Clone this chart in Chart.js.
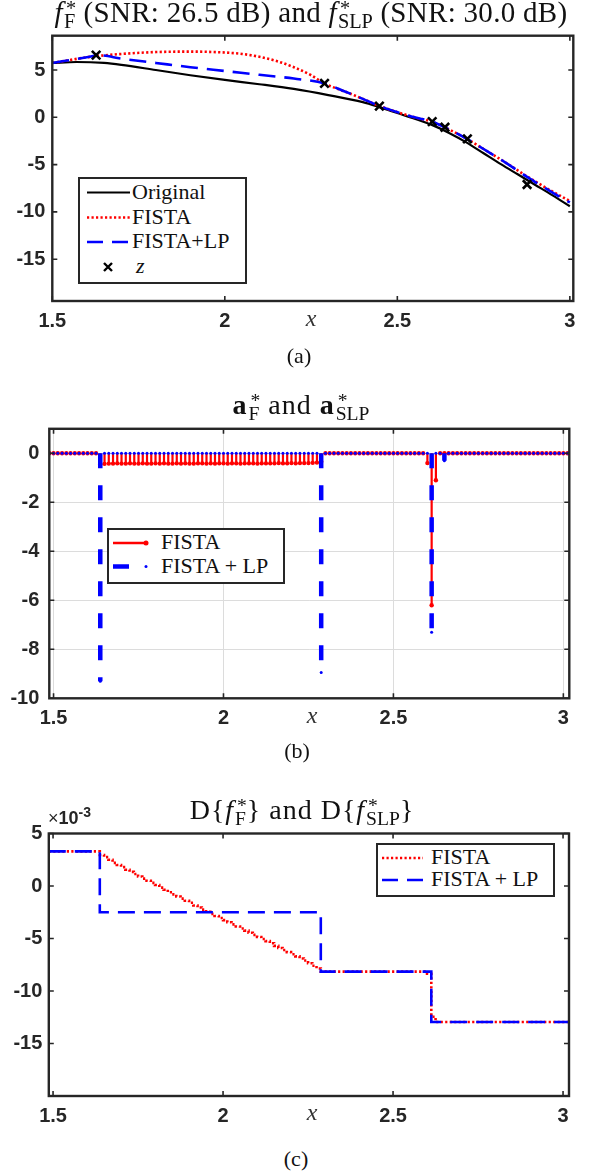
<!DOCTYPE html>
<html>
<head>
<meta charset="utf-8">
<script src="https://cdn.jsdelivr.net/npm/chart.js@4.4.1/dist/chart.umd.min.js"></script>
<style>
  body { margin: 0; background: #fff; }
  #page { position: relative; width: 590px; height: 1173px; overflow: hidden; font-family: "Liberation Serif", "Times New Roman", serif; color: #111; }
  canvas { position: absolute; left: 0; }
  .ttl { position: absolute; white-space: nowrap; transform: translateX(-50%); font-size: 28px; line-height: 50px; height: 50px; }
  .cap { position: absolute; transform: translateX(-50%); font-size: 22px; line-height: 30px; }
  .xl { position: absolute; font-style: italic; font-size: 24px; line-height: 30px; transform: translateX(-50%); color: #333; }
  .ss { display: inline-block; font-size: .7em; line-height: .64em; vertical-align: -.3em; margin-left: .05em; letter-spacing: 0; }
  .ss > span { display: block; }
  .ss > .u { margin-left: .1em; }
  .leg { position: absolute; background: #fff; box-shadow: inset 0 0 0 2px #262626; }
  .leg svg { position: absolute; left: 0; top: 0; }
  .leg span { position: absolute; font-size: 22px; line-height: 24px; white-space: nowrap; }
  .exp { position: absolute; left: 48px; top: 804px; font: bold 18px "Liberation Sans", Arial, sans-serif; color: #262626; white-space: nowrap; }
  .exp sup { font-size: 14px; }
</style>
</head>
<body>
<div id="page">
  <canvas id="ca" width="590" height="345" style="top:0"></canvas>
  <canvas id="cb" width="590" height="345" style="top:400px"></canvas>
  <canvas id="cc" width="590" height="335" style="top:800px"></canvas>

  <div class="ttl" style="left:311px;top:-13px;font-size:29px;letter-spacing:.3px"><i>f</i><span class="ss"><span class="u">*</span><span>F</span></span> (SNR: 26.5 dB) and <i>f</i><span class="ss"><span class="u">*</span><span>SLP</span></span> (SNR: 30.0 dB)</div>
  <div class="ttl" style="left:301px;top:380px;letter-spacing:1px"><b>a</b><span class="ss"><span class="u">*</span><span>F</span></span> and <b>a</b><span class="ss"><span class="u">*</span><span>SLP</span></span></div>
  <div class="ttl" style="left:302px;top:785px;letter-spacing:1px">D{<i>f</i><span class="ss"><span class="u">*</span><span>F</span></span>} and D{<i>f</i><span class="ss"><span class="u">*</span><span>SLP</span></span>}</div>

  <div class="xl" style="left:311px;top:303px">x</div>
  <div class="xl" style="left:312px;top:700px">x</div>
  <div class="xl" style="left:312px;top:1097px">x</div>

  <div class="cap" style="left:299px;top:341px">(a)</div>
  <div class="cap" style="left:297px;top:736px">(b)</div>
  <div class="cap" style="left:296px;top:1144px">(c)</div>

  <div class="exp"><span style="font-weight:normal">×</span>10<sup>-3</sup></div>

  <div class="leg" style="left:78px;top:177px;width:169px;height:107px">
    <svg width="169" height="107">
      <line x1="9" y1="15.5" x2="52" y2="15.5" stroke="#000" stroke-width="2.2"/>
      <line x1="9" y1="40.5" x2="52" y2="40.5" stroke="#f00" stroke-width="2.6" stroke-dasharray="2.2 2.3"/>
      <line x1="9" y1="65" x2="52" y2="65" stroke="#00f" stroke-width="2.6" stroke-dasharray="16 9"/>
      <path d="M26 86 L34 94 M34 86 L26 94" stroke="#000" stroke-width="2.4"/>
    </svg>
    <span style="left:54px;top:3px">Original</span>
    <span style="left:54px;top:28px">FISTA</span>
    <span style="left:54px;top:52px">FISTA+LP</span>
    <span style="left:58px;top:77px;font-style:italic">z</span>
  </div>

  <div class="leg" style="left:107px;top:528px;width:178px;height:56px">
    <svg width="178" height="56">
      <line x1="6" y1="15" x2="39" y2="15" stroke="#f00" stroke-width="2.4"/>
      <circle cx="39" cy="15" r="2.5" fill="#f00"/>
      <line x1="6" y1="38.5" x2="22" y2="38.5" stroke="#00f" stroke-width="4.5"/>
      <circle cx="39" cy="38.5" r="1.5" fill="#00f"/>
    </svg>
    <span style="left:54px;top:2px">FISTA</span>
    <span style="left:54px;top:26px">FISTA + LP</span>
  </div>

  <div class="leg" style="left:376px;top:843px;width:179px;height:54px">
    <svg width="179" height="54">
      <line x1="6" y1="15" x2="47" y2="15" stroke="#f00" stroke-width="2.6" stroke-dasharray="2.2 2.3"/>
      <line x1="6" y1="37" x2="47" y2="37" stroke="#00f" stroke-width="2.6" stroke-dasharray="16 9"/>
    </svg>
    <span style="left:55px;top:2px">FISTA</span>
    <span style="left:55px;top:24px">FISTA + LP</span>
  </div>
</div>

<script>
// ---- (a) reconstructed signals ----
const origX = [1.5, 1.57, 1.65, 1.7, 1.8, 1.9, 2.0, 2.1, 2.2, 2.3, 2.4, 2.45, 2.5, 2.55, 2.6, 2.65, 2.7, 2.75, 2.8, 2.85, 2.9, 2.95, 3.0]
const origY = [5.75, 5.85, 5.75, 5.55, 5.0, 4.45, 3.95, 3.5, 3.0, 2.35, 1.6, 1.05, 0.45, -0.15, -0.8, -1.65, -2.65, -3.8, -4.95, -6.05, -7.15, -8.25, -9.4]
const fistaX = [1.5, 1.55, 1.6, 1.65, 1.7, 1.8, 1.9, 2.0, 2.05, 2.1, 2.15, 2.2, 2.25, 2.2875, 2.35, 2.4, 2.448, 2.5, 2.55, 2.6, 2.64, 2.7, 2.75, 2.817, 2.876, 2.95, 3.0]
const fistaY = [5.75, 6.05, 6.35, 6.55, 6.7, 6.9, 6.95, 6.85, 6.7, 6.4, 5.95, 5.3, 4.45, 3.6, 2.7, 1.95, 1.2, 0.55, 0.0, -0.45, -1.1, -2.25, -3.35, -4.86, -6.25, -7.85, -8.85]
const lpX = [1.5, 1.55, 1.6, 1.6375, 1.7, 1.8, 1.9, 2.0, 2.1, 2.2, 2.2875, 2.35, 2.4, 2.448, 2.5, 2.55, 2.6, 2.64, 2.7, 2.75, 2.817, 2.876, 2.95, 3.0]
const lpY = [5.75, 6.05, 6.35, 6.55, 6.2, 5.75, 5.3, 4.9, 4.5, 4.1, 3.6, 2.7, 1.95, 1.2, 0.55, 0.0, -0.45, -1.1, -2.25, -3.35, -4.86, -6.3, -7.95, -9.0]
const zX = [1.627, 2.289, 2.448, 2.601, 2.638, 2.703, 2.876]
const zY = [6.58, 3.59, 1.19, -0.46, -1.05, -2.28, -7.1]

// ---- (b) coefficients on the sample grid ----
const aGrid = [1.4875, 1.5, 1.5125, 1.525, 1.5375, 1.55, 1.5625, 1.575, 1.5875, 1.6, 1.6125, 1.625,
  1.6375, 1.65, 1.6625, 1.675, 1.6875, 1.7, 1.7125, 1.725, 1.7375, 1.75, 1.7625, 1.775, 1.7875, 1.8,
  1.8125, 1.825, 1.8375, 1.85, 1.8625, 1.875, 1.8875, 1.9, 1.9125, 1.925, 1.9375, 1.95, 1.9625, 1.975,
  1.9875, 2, 2.0125, 2.025, 2.0375, 2.05, 2.0625, 2.075, 2.0875, 2.1, 2.1125, 2.125, 2.1375, 2.15,
  2.1625, 2.175, 2.1875, 2.2, 2.2125, 2.225, 2.2375, 2.25, 2.2625, 2.275, 2.2875, 2.3, 2.3125, 2.325,
  2.3375, 2.35, 2.3625, 2.375, 2.3875, 2.4, 2.4125, 2.425, 2.4375, 2.45, 2.4625, 2.475, 2.4875, 2.5,
  2.5125, 2.525, 2.5375, 2.55, 2.5625, 2.575, 2.5875, 2.6, 2.6125, 2.625, 2.6375, 2.65, 2.6625, 2.675,
  2.6875, 2.7, 2.7125, 2.725, 2.7375, 2.75, 2.7625, 2.775, 2.7875, 2.8, 2.8125, 2.825, 2.8375, 2.85,
  2.8625, 2.875, 2.8875, 2.9, 2.9125, 2.925, 2.9375, 2.95, 2.9625, 2.975, 2.9875, 3, 3.0125]
const combFrom = 1.6375
const aFistaComb = [-0.45, -0.43, -0.42, -0.42, -0.41, -0.42, -0.42, -0.41, -0.42, -0.42, -0.41, -0.42,
  -0.42, -0.41, -0.42, -0.41, -0.42, -0.42, -0.41, -0.42, -0.41, -0.42, -0.42, -0.41, -0.41, -0.42,
  -0.41, -0.42, -0.41, -0.41, -0.42, -0.41, -0.41, -0.42, -0.41, -0.41, -0.41, -0.42, -0.41, -0.41,
  -0.41, -0.41, -0.4, -0.41, -0.41, -0.4, -0.41, -0.4, -0.4, -0.4, -0.39, -0.38, -0.34]
const aFistaX = [2.6, 2.6125, 2.625]
const aFistaY = [-0.4, -6.2, -1.1]
const aLpX = [1.6375, 2.2875, 2.6125, 2.65]
const aLpY = [-9.3, -8.95, -7.3, -0.3]

// ---- (c) derivative estimates (x 1e-3) ----
const dFistaComb = [2.95, 2.75, 2.5, 2.2, 2.0, 1.8, 1.55, 1.35, 1.15, 0.9, 0.7, 0.5, 0.3, 0.1, -0.15,
  -0.35, -0.6, -0.8, -1.0, -1.2, -1.4, -1.6, -1.85, -2.05, -2.25, -2.45, -2.65, -2.85, -3.05, -3.25,
  -3.45, -3.65, -3.85, -4.05, -4.25, -4.45, -4.65, -4.85, -5.05, -5.25, -5.45, -5.7, -5.9, -6.1, -6.3,
  -6.5, -6.7, -6.9, -7.1, -7.35, -7.6, -7.85, -8.15]
const dFistaTailX = [2.6, 2.6125, 2.625, 3.0175]
const dFistaTailY = [-8.35, -12.45, -12.95, -12.95]
const dStart = 3.3
const dLpX = [1.4875, 1.6375, 2.2875, 2.6125, 3.0175]
const dLpY = [3.3, -2.5, -8.15, -12.95, -12.95]

const xTicks = [1.5, 2, 2.5, 3]
const yTicksA = [-15, -10, -5, 0, 5]
const yTicksB = [-10, -8, -6, -4, -2, 0]
const yTicksC = [-15, -10, -5, 0, 5]

const RED = '#ff0000'
const BLUE = '#0000ff'
const AX = '#262626'
const tickFont = { family: '"Liberation Sans", Arial, sans-serif', size: 20, weight: 'bold' }

const pts = (xs, ys) => xs.map((x, i) => ({ x, y: ys[i] }))

// axis box with inward ticks on all four sides
const boxPlugin = {
  id: 'box',
  afterDatasetsDraw(chart) {
    const { ctx, chartArea: a, scales } = chart
    ctx.save()
    ctx.strokeStyle = AX
    ctx.lineWidth = 1.6
    ctx.beginPath()
    scales.x.ticks.forEach((t) => {
      const p = scales.x.getPixelForValue(t.value)
      ctx.moveTo(p, a.bottom); ctx.lineTo(p, a.bottom - 5)
      ctx.moveTo(p, a.top); ctx.lineTo(p, a.top + 5)
    })
    scales.y.ticks.forEach((t) => {
      const p = scales.y.getPixelForValue(t.value)
      ctx.moveTo(a.left, p); ctx.lineTo(a.left + 5, p)
      ctx.moveTo(a.right, p); ctx.lineTo(a.right - 5, p)
    })
    ctx.stroke()
    ctx.lineWidth = 2.4
    ctx.strokeRect(a.left, a.top, a.right - a.left, a.bottom - a.top)
    ctx.restore()
  },
}

function makeOptions(h, box, xr, yr, yTicks, o) {
  const axis = (ticks, pad) => ({
    afterBuildTicks: (s) => { s.ticks = ticks.map((v) => ({ value: v })) },
    ticks: { font: tickFont, color: AX, padding: pad, maxRotation: 0, autoSkip: false, callback: (v) => String(v) },
    grid: { display: !!o.grid, color: '#dcdcdc', lineWidth: 1, drawTicks: false },
    border: { display: false },
  })
  return {
    responsive: false,
    animation: false,
    events: [],
    devicePixelRatio: 1,
    layout: { padding: { left: 0, top: box.t, right: 590 - box.r, bottom: 0 } },
    plugins: { legend: { display: false }, tooltip: { enabled: false } },
    scales: {
      x: { type: 'linear', min: xr[0], max: xr[1], ...axis(xTicks, o.xpad), afterFit: (s) => { s.height = h - box.b } },
      y: { type: 'linear', min: yr[0], max: yr[1], ...axis(yTicks, o.ypad), afterFit: (s) => { s.width = box.l } },
    },
  }
}

// (a)
new Chart(document.getElementById('ca'), {
  type: 'line',
  data: {
    datasets: [
      { data: pts(zX, zY), showLine: false, pointStyle: 'crossRot', pointRadius: 6, pointBorderWidth: 2.6, borderColor: '#000', order: 0 },
      { data: pts(lpX, lpY), borderColor: BLUE, borderWidth: 2.6, borderDash: [17, 9], pointRadius: 0, cubicInterpolationMode: 'monotone', order: 1 },
      { data: pts(fistaX, fistaY), borderColor: RED, borderWidth: 2.6, borderDash: [2.2, 2.3], pointRadius: 0, cubicInterpolationMode: 'monotone', order: 2 },
      { data: pts(origX, origY), borderColor: '#000', borderWidth: 2.2, pointRadius: 0, cubicInterpolationMode: 'monotone', order: 3 },
    ],
  },
  options: makeOptions(345, { l: 52.3, t: 35.7, r: 573.3, b: 301 }, [1.5, 3.01], [-19.42, 8.63], yTicksA, { xpad: 8.5, ypad: 7 }),
  plugins: [boxPlugin],
})

// (b) stem plots
const combStart = aGrid.indexOf(combFrom)
const fistaCoef = aGrid.map((x, i) => {
  const k = aFistaX.indexOf(x)
  if (k >= 0) return aFistaY[k]
  const c = i - combStart
  return c >= 0 && c < aFistaComb.length ? aFistaComb[c] : 0
})
const lpCoef = aGrid.map((x) => {
  const k = aLpX.indexOf(x)
  return k >= 0 ? aLpY[k] : 0
})
const stems = (vals) => aGrid.flatMap((x, i) => [{ x, y: 0 }, { x, y: vals[i], tip: true }, { x, y: null }])

new Chart(document.getElementById('cb'), {
  type: 'line',
  data: {
    datasets: [
      { data: stems(lpCoef), borderColor: BLUE, backgroundColor: BLUE, borderWidth: 4.5, borderDash: [15, 17],
        pointRadius: (c) => (c.raw && c.raw.tip ? 1.5 : 0), pointBorderWidth: 0, spanGaps: false, order: 0 },
      { data: stems(fistaCoef), borderColor: RED, backgroundColor: RED, borderWidth: 2.2,
        pointRadius: (c) => (c.raw && c.raw.tip ? 2.2 : 0), pointBorderWidth: 0, spanGaps: false, order: 1 },
    ],
  },
  options: makeOptions(345, { l: 49.3, t: 28.8, r: 569.3, b: 298.3 }, [1.4875, 3.0175], [-10, 1], yTicksB, { xpad: 8, ypad: 10, grid: true }),
  plugins: [boxPlugin],
})

// (c) staircase derivatives
const dFistaX = [aGrid[0]].concat(aGrid.slice(combStart, combStart + dFistaComb.length), dFistaTailX)
const dFistaY = [dStart].concat(dFistaComb, dFistaTailY)

new Chart(document.getElementById('cc'), {
  type: 'line',
  data: {
    datasets: [
      { data: pts(dLpX, dLpY), stepped: 'before', borderColor: BLUE, borderWidth: 2.6, borderDash: [17, 9], pointRadius: 0, order: 0 },
      { data: pts(dFistaX, dFistaY), stepped: 'before', borderColor: RED, borderWidth: 2.6, borderDash: [2.2, 2.3], pointRadius: 0, order: 1 },
    ],
  },
  options: makeOptions(335, { l: 48.8, t: 33.5, r: 569, b: 296 }, [1.4875, 3.0175], [-20, 5], yTicksC, { xpad: 8.5, ypad: 6.5 }),
  plugins: [boxPlugin],
})
</script>
</body>
</html>
